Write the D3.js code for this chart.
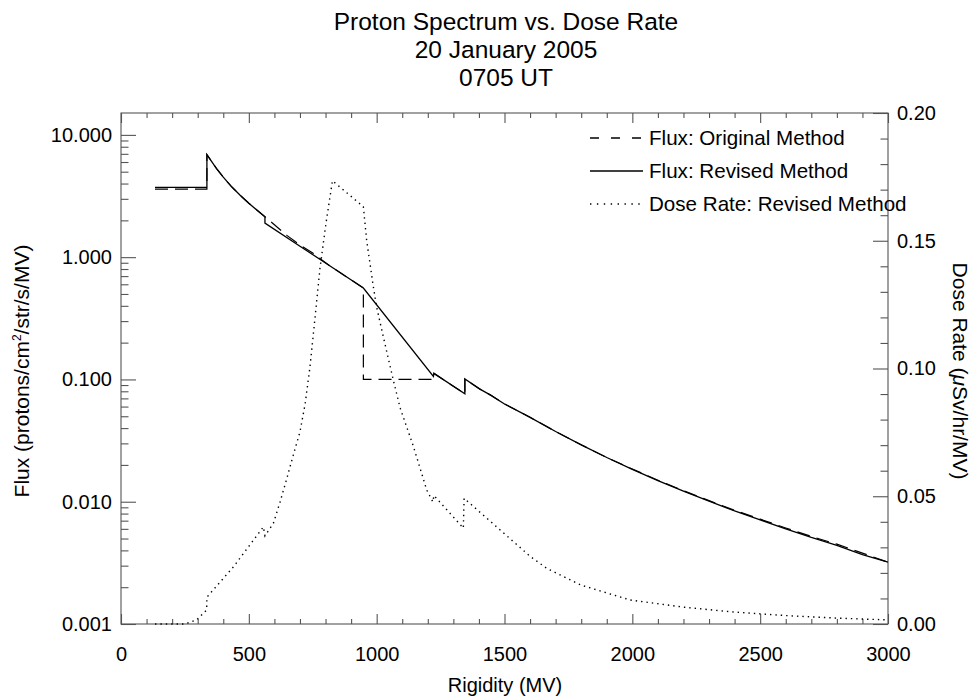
<!DOCTYPE html>
<html>
<head>
<meta charset="utf-8">
<script src="https://cdn.jsdelivr.net/npm/d3@7"></script>
<style>
  html, body { margin: 0; padding: 0; background: #fff; }
  svg { display: block; }
  text { font-family: "Liberation Sans", Arial, Helvetica, sans-serif; fill: #000; }
</style>
</head>
<body>
<svg id="chart" width="974" height="696"></svg>
<script>
// ---------------- DATA ----------------
const titleLines = ["Proton Spectrum vs. Dose Rate", "20 January 2005", "0705 UT"];

// Flux, revised method (solid)
const rigidityRevised = [133, 336, 336, 375, 400, 433, 466, 500, 530, 563, 563, 700, 800, 948, 1222, 1224, 1345, 1345, 1404, 1444, 1500, 1600, 1700, 1800, 1900, 2000, 2100, 2200, 2300, 2400, 2500, 2600, 2700, 2800, 2900, 3000];
const fluxRevised     = [3.72, 3.72, 6.89, 5.26, 4.51, 3.76, 3.21, 2.76, 2.44, 2.14, 1.90, 1.23, 0.895, 0.559, 0.106, 0.112, 0.0763, 0.101, 0.0833, 0.0748, 0.063, 0.049, 0.0375, 0.0292, 0.0230, 0.0184, 0.0149, 0.0122, 0.0101, 0.0084, 0.0071, 0.0060, 0.0051, 0.0044, 0.0037, 0.0032];

// Flux, original method (dashed)
const rigidityOriginal = [133, 336, 336, 375, 400, 433, 466, 500, 530, 563, 600, 650, 700, 750, 820, 948, 948, 1222, 1224, 1345, 1345, 1404, 1444, 1500, 1600, 1700, 1800, 1900, 2000, 2100, 2200, 2300, 2400, 2500, 2600, 2700, 2800, 2900, 3000];
const fluxOriginal     = [3.60, 3.60, 6.89, 5.26, 4.51, 3.76, 3.21, 2.76, 2.44, 2.14, 1.84, 1.50, 1.26, 1.08, 0.84, 0.559, 0.100, 0.100, 0.112, 0.0763, 0.101, 0.0833, 0.0748, 0.063, 0.049, 0.0375, 0.0292, 0.0230, 0.0185, 0.0150, 0.0123, 0.0102, 0.0085, 0.0072, 0.0061, 0.0052, 0.0045, 0.0038, 0.0032];

// Dose rate, revised method (dotted, right axis)
const rigidityDose = [133, 250, 296, 335, 336, 440, 557, 563, 596, 622, 649, 673, 700, 720, 739, 759, 778, 802, 827, 948, 961, 987, 1000, 1026, 1065, 1092, 1144, 1196, 1220, 1224, 1339, 1342, 1483, 1600, 1665, 1800, 1991, 2200, 2383, 2600, 2800, 3000];
const doseRate     = [0, 0, 0.0016, 0.0055, 0.0105, 0.0224, 0.038, 0.0345, 0.0394, 0.0477, 0.0571, 0.0658, 0.0752, 0.086, 0.1005, 0.120, 0.139, 0.157, 0.1735, 0.1633, 0.150, 0.132, 0.124, 0.1124, 0.0955, 0.0845, 0.0694, 0.0524, 0.0478, 0.0503, 0.0375, 0.0492, 0.0368, 0.0265, 0.0218, 0.0152, 0.0094, 0.0066, 0.0048, 0.0033, 0.0023, 0.0016];

const xMajorTicks = [0, 500, 1000, 1500, 2000, 2500, 3000];
const fluxMajorTicks = [0.001, 0.01, 0.1, 1, 10];
const fluxTickLabels = ["0.001", "0.010", "0.100", "1.000", "10.000"];
const doseMajorTicks = [0, 0.05, 0.10, 0.15, 0.20];
const doseTickLabels = ["0.00", "0.05", "0.10", "0.15", "0.20"];

const legendLabels = ["Flux: Original Method", "Flux: Revised Method", "Dose Rate: Revised Method"];

// ---------------- LAYOUT ----------------
const L = 121, R = 888, T = 113, B = 624;
const svg = d3.select("#chart");
const font = '"Liberation Sans", Arial, Helvetica, sans-serif';

const x = d3.scaleLinear().domain([0, 3000]).range([L, R]);
const yF = d3.scaleLog().domain([0.001, 15.1]).range([B, T]);
const yD = d3.scaleLinear().domain([0, 0.2]).range([B, T]);

const axisColor = "#555";
const majY = 15, minY = 7.5, majX = 10, minX = 5;

// minor tick values
const xMinor = d3.range(0, 3001, 100).filter(v => v % 500 !== 0);
const fluxMinor = [];
[0.001, 0.01, 0.1, 1, 10].forEach(d => { for (let k = 2; k <= 9; k++) { const v = d * k; if (v <= 15.1) fluxMinor.push(v); } });
const doseMinor = d3.range(0, 21).map(i => i / 100).filter((v, i) => i % 5 !== 0);

function styleAxis(g, showText) {
  g.select(".domain").remove();
  g.selectAll(".tick line").attr("stroke", axisColor).attr("stroke-width", 1.1);
  g.selectAll(".tick text").attr("font-family", font).attr("font-size", 20).attr("fill", "#000");
  if (!showText) g.selectAll(".tick text").remove();
}

// bottom
svg.append("g").attr("transform", `translate(0,${B})`)
  .call(d3.axisBottom(x).tickValues(xMajorTicks).tickSizeInner(-majX).tickSizeOuter(0).tickPadding(23).tickFormat(d3.format("d")))
  .call(g => styleAxis(g, true));
svg.append("g").attr("transform", `translate(0,${B})`)
  .call(d3.axisBottom(x).tickValues(xMinor).tickSizeInner(-minX).tickSizeOuter(0).tickFormat(""))
  .call(g => styleAxis(g, false));
// top
svg.append("g").attr("transform", `translate(0,${T})`)
  .call(d3.axisTop(x).tickValues(xMajorTicks).tickSizeInner(-majX).tickSizeOuter(0).tickFormat(""))
  .call(g => styleAxis(g, false));
svg.append("g").attr("transform", `translate(0,${T})`)
  .call(d3.axisTop(x).tickValues(xMinor).tickSizeInner(-minX).tickSizeOuter(0).tickFormat(""))
  .call(g => styleAxis(g, false));
// left (log flux)
svg.append("g").attr("transform", `translate(${L},0)`)
  .call(d3.axisLeft(yF).tickValues(fluxMajorTicks).tickSizeInner(-majY).tickSizeOuter(0).tickPadding(9)
    .tickFormat((d, i) => fluxTickLabels[i]))
  .call(g => styleAxis(g, true));
svg.append("g").attr("transform", `translate(${L},0)`)
  .call(d3.axisLeft(yF).tickValues(fluxMinor).tickSizeInner(-minY).tickSizeOuter(0).tickFormat(""))
  .call(g => styleAxis(g, false));
// right (dose)
svg.append("g").attr("transform", `translate(${R},0)`)
  .call(d3.axisRight(yD).tickValues(doseMajorTicks).tickSizeInner(-majY).tickSizeOuter(0).tickPadding(9)
    .tickFormat((d, i) => doseTickLabels[i]))
  .call(g => styleAxis(g, true));
svg.append("g").attr("transform", `translate(${R},0)`)
  .call(d3.axisRight(yD).tickValues(doseMinor).tickSizeInner(-minY).tickSizeOuter(0).tickFormat(""))
  .call(g => styleAxis(g, false));

// frame
svg.append("rect").attr("x", L).attr("y", T).attr("width", R - L).attr("height", B - T)
  .attr("fill", "none").attr("stroke", axisColor).attr("stroke-width", 1.1);

// ---------------- LINES ----------------
const clip = svg.append("clipPath").attr("id", "plotclip");
clip.append("rect").attr("x", L).attr("y", T - 1).attr("width", R - L + 1).attr("height", B - T + 2);
const plot = svg.append("g").attr("clip-path", "url(#plotclip)");

const lineF = d3.line().x(d => x(d[0])).y(d => yF(d[1]));
const lineD = d3.line().x(d => x(d[0])).y(d => yD(d[1]));

plot.append("path").datum(d3.zip(rigidityOriginal, fluxOriginal))
  .attr("d", lineF).attr("fill", "none").attr("stroke", "#000").attr("stroke-width", 1.2)
  .attr("stroke-dasharray", "13,7");
plot.append("path").datum(d3.zip(rigidityRevised, fluxRevised))
  .attr("d", lineF).attr("fill", "none").attr("stroke", "#000").attr("stroke-width", 1.3);
plot.append("path").datum(d3.zip(rigidityDose, doseRate))
  .attr("d", lineD).attr("fill", "none").attr("stroke", "#000").attr("stroke-width", 1.4)
  .attr("stroke-dasharray", "1.4,4");

// ---------------- LEGEND ----------------
const legendY = [138, 171, 204];
const dashes = ["9,12", null, "1.4,5.5"];
legendLabels.forEach((lab, i) => {
  const ln = svg.append("line").attr("x1", 590).attr("x2", 643).attr("y1", legendY[i]).attr("y2", legendY[i])
    .attr("stroke", "#000").attr("stroke-width", 1.3);
  if (dashes[i]) ln.attr("stroke-dasharray", dashes[i]);
  svg.append("text").attr("x", 649).attr("y", legendY[i] + 7).attr("font-size", 20.6).text(lab);
});

// ---------------- TITLES ----------------
const titleY = [30, 58, 86];
titleLines.forEach((t, i) => {
  svg.append("text").attr("x", 506).attr("y", titleY[i]).attr("text-anchor", "middle")
    .attr("font-size", 24.5).text(t);
});

svg.append("text").attr("x", 505).attr("y", 692).attr("text-anchor", "middle").attr("font-size", 20)
  .text("Rigidity (MV)");

const lt = svg.append("text").attr("transform", "translate(29,371) rotate(-90)").attr("text-anchor", "middle")
  .attr("font-size", 21);
lt.append("tspan").text("Flux (protons/cm");
lt.append("tspan").attr("font-size", 12).attr("dy", -8).text("2");
lt.append("tspan").attr("dy", 8).text("/str/s/MV)");

const rt = svg.append("text").attr("transform", "translate(953,371) rotate(90)").attr("text-anchor", "middle")
  .attr("font-size", 21);
rt.append("tspan").text("Dose Rate (");
rt.append("tspan").attr("font-style", "italic").text("μ");
rt.append("tspan").text("Sv/hr/MV)");
</script>
</body>
</html>
